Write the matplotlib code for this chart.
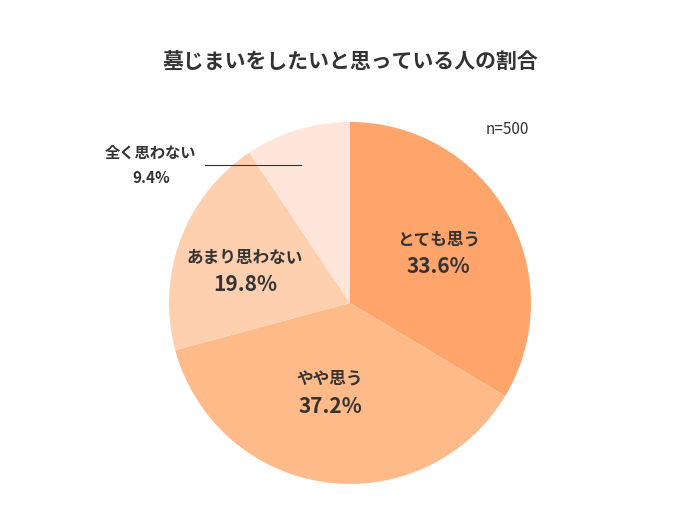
import matplotlib
matplotlib.use("Agg")
import matplotlib.pyplot as plt

plt.rcParams['font.family'] = ['Noto Sans CJK JP', 'DejaVu Sans']

labels = ["とても思う", "やや思う", "あまり思わない", "全く思わない"]
values = [33.6, 37.2, 19.8, 9.4]
colors = ["#FFA46A", "#FFBA8A", "#FFD0B0", "#FFE5DA"]

fig = plt.figure(figsize=(7, 5.25), dpi=100)
fig.text(0.5, 0.882, "墓じまいをしたいと思っている人の割合", ha="center", va="center",
         fontsize=15, fontweight="bold", color="#333333")

ax = fig.add_axes([0.5 - 0.2586, 0.423 - 0.3448, 0.5171, 0.6895])
ax.pie(values, colors=colors, startangle=90, counterclock=False,
       wedgeprops=dict(linewidth=0))
ax.set_xlim(-1, 1)
ax.set_ylim(-1, 1)
ax.set_aspect("equal")

# inside labels
pos = [(0.49, 0.28), (-0.11, -0.49), (-0.58, 0.18)]
for (x, y), lab, v in zip(pos, labels[:3], values[:3]):
    ax.text(x, y + 0.07, lab, ha="center", va="center", fontsize=12,
            fontweight="bold", color="#333333")
    ax.text(x, y - 0.08, f"{v}%", ha="center", va="center", fontsize=15,
            fontweight="bold", color="#333333")

# outside label
ax.text(-1.10, 0.83, labels[3], ha="center", va="center", fontsize=11,
        fontweight="bold", color="#333333", clip_on=False)
ax.text(-1.10, 0.69, f"{values[3]}%", ha="center", va="center", fontsize=11,
        fontweight="bold", color="#333333", clip_on=False)
ax.plot([-0.80, -0.27], [0.76, 0.76], color="#333333", lw=0.8, clip_on=False)

ax.text(0.87, 0.96, "n=500", ha="center", va="center", fontsize=11,
        color="#333333", clip_on=False)

fig.savefig("out.png", dpi=100)
